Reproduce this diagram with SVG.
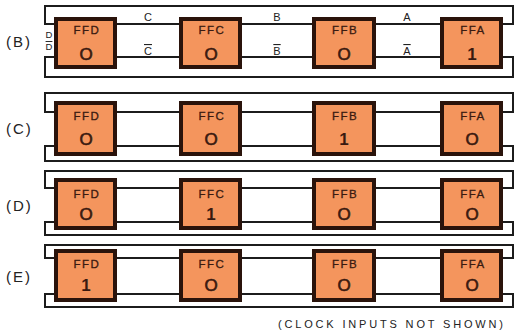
<svg xmlns="http://www.w3.org/2000/svg" width="515" height="333" viewBox="0 0 515 333">
<style>
.bg{fill:#ffffff}
.ff rect{fill:#f4955d;stroke:#2a130b;stroke-width:4}
.nm{font-family:"Liberation Sans",Arial,sans-serif;font-size:11.5px;fill:#3a1a10;text-anchor:middle;letter-spacing:1.5px;stroke:#3a1a10;stroke-width:0.3}
.val{font-family:"Liberation Sans",Arial,sans-serif;font-size:17px;fill:#3a1a10;text-anchor:middle;stroke:#3a1a10;stroke-width:0.6}
.one{font-weight:bold;stroke-width:0}
.w{fill:none;stroke:#1c1c1c;stroke-width:2}
.rl{font-family:"Liberation Sans",Arial,sans-serif;font-size:15px;fill:#222;letter-spacing:2px}
.sl{font-family:"Liberation Sans",Arial,sans-serif;font-size:11px;fill:#222;text-anchor:middle}
.dl{font-family:"Liberation Sans",Arial,sans-serif;font-size:9.5px;fill:#222;text-anchor:middle}
.ft{font-family:"Liberation Sans",Arial,sans-serif;font-size:11px;fill:#222}
</style>
<rect class="bg" x="0" y="0" width="515" height="333"/>
<g id="connectors">
<path class="w" d="M56 24 H45 V6 H513 V24 H501"/>
<path class="w" d="M56 57 H45 V77 H513 V57 H501"/>
<path class="w" d="M115 24 H181 M240 24 H314 M374 24 H442"/>
<path class="w" d="M115 57 H181 M240 57 H314 M374 57 H442"/>
<path class="w" d="M56 112 H45 V93 H513 V112 H501"/>
<path class="w" d="M56 146 H45 V161 H513 V146 H501"/>
<path class="w" d="M115 112 H181 M240 112 H314 M374 112 H442"/>
<path class="w" d="M115 146 H181 M240 146 H314 M374 146 H442"/>
<path class="w" d="M56 188 H45 V171 H513 V188 H501"/>
<path class="w" d="M56 222 H45 V235 H513 V222 H501"/>
<path class="w" d="M115 188 H181 M240 188 H314 M374 188 H442"/>
<path class="w" d="M115 222 H181 M240 222 H314 M374 222 H442"/>
<path class="w" d="M56 258 H45 V245 H513 V258 H501"/>
<path class="w" d="M56 294 H45 V307 H513 V294 H501"/>
<path class="w" d="M115 258 H181 M240 258 H314 M374 258 H442"/>
<path class="w" d="M115 294 H181 M240 294 H314 M374 294 H442"/>
</g>
<g id="labels-B">
<text class="sl" x="148" y="21">C</text>
<text class="sl" x="148" y="55" text-decoration="overline">C</text>
<text class="sl" x="277" y="21">B</text>
<text class="sl" x="277" y="55" text-decoration="overline">B</text>
<text class="sl" x="407" y="21">A</text>
<text class="sl" x="407" y="55" text-decoration="overline">A</text>
<text class="dl" x="49" y="38">D</text>
<text class="dl" x="49" y="50" text-decoration="overline">D</text>
</g>
<g id="row-labels">
<text class="rl" x="6" y="47">(B)</text>
<text class="rl" x="6" y="134">(C)</text>
<text class="rl" x="6" y="211">(D)</text>
<text class="rl" x="6" y="282">(E)</text>
</g>
<g id="B-FFD" class="ff"><rect x="56" y="19" width="59" height="48"/><text class="nm" x="87" y="34">FFD</text><text class="val" x="86" y="60">O</text></g>
<g id="B-FFC" class="ff"><rect x="181" y="19" width="59" height="48"/><text class="nm" x="212" y="34">FFC</text><text class="val" x="211" y="60">O</text></g>
<g id="B-FFB" class="ff"><rect x="314" y="19" width="60" height="48"/><text class="nm" x="345" y="34">FFB</text><text class="val" x="344" y="60">O</text></g>
<g id="B-FFA" class="ff"><rect x="442" y="19" width="59" height="48"/><text class="nm" x="473" y="34">FFA</text><text class="val one" x="472" y="60">1</text></g>
<g id="C-FFD" class="ff"><rect x="56" y="103" width="59" height="51"/><text class="nm" x="87" y="120">FFD</text><text class="val" x="86" y="145">O</text></g>
<g id="C-FFC" class="ff"><rect x="181" y="103" width="59" height="51"/><text class="nm" x="212" y="120">FFC</text><text class="val" x="211" y="145">O</text></g>
<g id="C-FFB" class="ff"><rect x="314" y="103" width="60" height="51"/><text class="nm" x="345" y="120">FFB</text><text class="val one" x="344" y="145">1</text></g>
<g id="C-FFA" class="ff"><rect x="442" y="103" width="59" height="51"/><text class="nm" x="473" y="120">FFA</text><text class="val" x="472" y="145">O</text></g>
<g id="D-FFD" class="ff"><rect x="56" y="180" width="59" height="48"/><text class="nm" x="87" y="198">FFD</text><text class="val" x="86" y="220">O</text></g>
<g id="D-FFC" class="ff"><rect x="181" y="180" width="59" height="48"/><text class="nm" x="212" y="198">FFC</text><text class="val one" x="211" y="220">1</text></g>
<g id="D-FFB" class="ff"><rect x="314" y="180" width="60" height="48"/><text class="nm" x="345" y="198">FFB</text><text class="val" x="344" y="220">O</text></g>
<g id="D-FFA" class="ff"><rect x="442" y="180" width="59" height="48"/><text class="nm" x="473" y="198">FFA</text><text class="val" x="472" y="220">O</text></g>
<g id="E-FFD" class="ff"><rect x="56" y="251" width="59" height="49"/><text class="nm" x="87" y="268">FFD</text><text class="val one" x="86" y="291">1</text></g>
<g id="E-FFC" class="ff"><rect x="181" y="251" width="59" height="49"/><text class="nm" x="212" y="268">FFC</text><text class="val" x="211" y="291">O</text></g>
<g id="E-FFB" class="ff"><rect x="314" y="251" width="60" height="49"/><text class="nm" x="345" y="268">FFB</text><text class="val" x="344" y="291">O</text></g>
<g id="E-FFA" class="ff"><rect x="442" y="251" width="59" height="49"/><text class="nm" x="473" y="268">FFA</text><text class="val" x="472" y="291">O</text></g>
<text class="ft" x="278" y="328" textLength="225" lengthAdjust="spacing">(CLOCK INPUTS NOT SHOWN)</text>
</svg>
